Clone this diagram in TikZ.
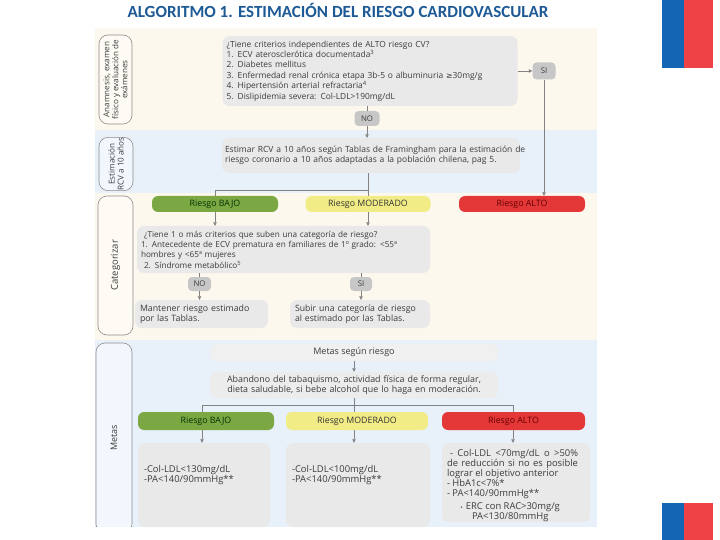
\documentclass[tikz,border=0pt]{standalone}
\usepackage{fontspec}
\setmainfont{Open Sans}
\newfontfamily\titlefont{Carlito}
\newfontfamily\symfont{DejaVu Sans}
\usetikzlibrary{arrows.meta,calc}
\definecolor{beige}{RGB}{253,248,238}
\definecolor{lblue}{RGB}{232,241,250}
\definecolor{boxgray}{RGB}{233,233,233}
\definecolor{txt}{RGB}{60,60,60}
\definecolor{linegray}{RGB}{130,130,130}
\definecolor{titleblue}{RGB}{30,90,150}
\definecolor{rgreen}{RGB}{124,168,68}
\definecolor{ryellow}{RGB}{241,236,134}
\definecolor{rred}{RGB}{228,56,56}
\definecolor{flagblue}{RGB}{21,101,181}
\definecolor{flagred}{RGB}{238,66,69}
\tikzset{
  gbox/.style={draw=none, fill=boxgray, rounded corners=7pt, text=txt, inner xsep=5pt, inner ysep=2pt},
  lbox/.style={gbox, align=left},
  cbox/.style={gbox, align=center},
  yn/.style={draw=none, fill=black!22, rounded corners=4pt, text=txt, font=\fontsize{7.8}{9}\selectfont, inner sep=0pt},
  risk/.style={draw=none, rounded corners=6pt, inner sep=0pt, font=\fontsize{8.8}{10}\selectfont},
  side/.style={draw=black!45, line width=0.6pt, rounded corners=9pt, rotate=90, align=center, text=txt, font=\fontsize{8.1}{9}\selectfont, inner sep=0pt},
  conn/.style={draw=linegray, line width=0.6pt},
  arr/.style={conn, -{Triangle[length=3.5pt,width=3.5pt]}},
  gtext/.style={anchor=west, align=left, text=txt, inner sep=0pt, font=\fontsize{9.4}{10.5}\selectfont},
}
\begin{document}
\begin{tikzpicture}[x=1pt,y=-1pt]
\useasboundingbox (0,0) rectangle (720,540);
\fill[white] (0,0) rectangle (720,540);
% flags
\fill[flagblue] (662,0) rectangle (684,68);
\fill[flagred] (684,0) rectangle (713,68);
\fill[flagblue] (662,503) rectangle (684,540);
\fill[flagred] (684,503) rectangle (713,540);
% title
\node[font=\titlefont\bfseries\fontsize{17}{19}\selectfont, text=titleblue] (title) at (338,10) {ALGORITMO 1. ESTIMACIÓN DEL RIESGO CARDIOVASCULAR};
% bands
\fill[beige] (95,28) rectangle (597,130);
\fill[lblue] (95,130) rectangle (597,193);
\fill[beige] (95,193) rectangle (597,340);
\fill[lblue] (95,340) rectangle (597,527);
% side labels
\node[side, fill=beige!60!white, minimum width=89pt, minimum height=33pt] (s1) at (115.5,79.5) {Anamnesis, examen\\físico y evaluación de\\exámenes};
\node[side, fill=lblue!60!white, minimum width=52pt, minimum height=34pt] (s2) at (116,164) {Estimación\\RCV a 10 años};
\node[side, fill=beige!60!white, minimum width=139pt, minimum height=35pt, font=\fontsize{9.5}{10}\selectfont] (s3) at (115.5,265.5) {Categorizar};
\node[side, fill=lblue!60!white, minimum width=190pt, minimum height=36pt, font=\fontsize{9}{10}\selectfont] (s4) at (114,438) {Metas};
\fill[white] (90,527) rectangle (140,540);
% band 1
\node[lbox, text width=287pt, inner xsep=4pt, minimum height=70pt, font=\fontsize{8.4}{10.4}\selectfont] (q1) at (370,71) {¿Tiene criterios independientes de ALTO riesgo CV?\\1. ECV aterosclerótica documentada\textsuperscript{3}\\2. Diabetes mellitus\\3. Enfermedad renal crónica etapa 3b-5 o albuminuria {\symfont\fontsize{7.8}{10}\selectfont ≥}30mg/g\\4. Hipertensión arterial refractaria\textsuperscript{4}\\5. Dislipidemia severa: Col-LDL>190mg/dL};
\node[yn, minimum width=23pt, minimum height=17pt] (si1) at (544,71) {SI};
\node[yn, minimum width=25pt, minimum height=15pt] (no1) at (367,118.5) {NO};
% band 2
\node[lbox, text width=292pt, inner xsep=3pt, minimum height=35pt, font=\fontsize{8.5}{10}\selectfont] (est) at (371,155.5) {\mbox{Estimar RCV a 10 años según Tablas de Framingham para la estimación de}\\\mbox{riesgo coronario a 10 años adaptadas a la población chilena, pag 5.}};
% band 3
\node[risk, fill=rgreen, text=black!80!green, minimum width=126pt, minimum height=16pt] (bajo1) at (215,204) {Riesgo BAJO};
\node[risk, fill=ryellow, text=black!80, minimum width=125pt, minimum height=16pt] (mod1) at (368,204) {Riesgo MODERADO};
\node[risk, fill=rred, text=black!60!red, minimum width=126pt, minimum height=16pt] (alto1) at (522,204) {Riesgo ALTO};
\node[lbox, text width=285pt, inner xsep=4pt, minimum height=47pt, font=\fontsize{8.2}{10.3}\selectfont] (q2) at (283.5,249.5) {\hspace*{3pt}¿Tiene 1 o más criterios que suben una categoría de riesgo?\\1. Antecedente de ECV prematura en familiares de 1º grado: <55ª\\hombres y <65ª mujeres\\\hspace*{3pt}2. Síndrome metabólico\textsuperscript{5}};
\node[yn, minimum width=23pt, minimum height=14pt] (no2) at (199.5,284) {NO};
\node[yn, minimum width=22pt, minimum height=14pt] (si2) at (361,284) {SI};
\node[lbox, text width=123pt, minimum height=28pt, font=\fontsize{8.8}{10}\selectfont] (mant) at (201.5,314) {Mantener riesgo estimado\\por las Tablas.};
\node[lbox, text width=130pt, minimum height=28pt, font=\fontsize{8.7}{10}\selectfont] (subir) at (360,314) {Subir una categoría de riesgo\\al estimado por las Tablas.};
% band 4
\node[cbox, fill=boxgray!70!white, minimum width=288pt, minimum height=17pt, font=\fontsize{9}{10}\selectfont] (metas) at (354,352.5) {Metas según riesgo};
\node[cbox, fill=boxgray!85!white, text width=278pt, minimum height=26pt, font=\fontsize{8.9}{10.2}\selectfont] (aband) at (354,385) {Abandono del tabaquismo, actividad física de forma regular,\\dieta saludable, si bebe alcohol que lo haga en moderación.};
\node[risk, fill=rgreen, text=black!80!green, minimum width=136pt, minimum height=18pt] (bajo2) at (206,421) {Riesgo BAJO};
\node[risk, fill=ryellow, text=black!80, minimum width=142pt, minimum height=18pt] (mod2) at (357,421) {Riesgo MODERADO};
\node[risk, fill=rred, text=black!60!red, minimum width=143pt, minimum height=18pt] (alto2) at (513.5,421) {Riesgo ALTO};
\node[gbox, minimum width=132pt, minimum height=84pt] (g1) at (204,485) {};
\node[gtext] (g1t) at ($(g1.west)+(6,-10)$) {-Col-LDL<130mg/dL\\-PA<140/90mmHg**};
\node[gbox, minimum width=144pt, minimum height=84pt] (g2) at (358,485) {};
\node[gtext] (g2t) at ($(g2.west)+(6,-10)$) {-Col-LDL<100mg/dL\\-PA<140/90mmHg**};
\node[gbox, minimum width=148pt, minimum height=79pt] (g3) at (516,482.5) {};
\node[gtext, font=\fontsize{9.4}{10}\selectfont] (g3t) at ($(g3.west)+(5,3)$) {\makebox[131pt][s]{\hspace*{3pt}- Col-LDL <70mg/dL o >50\%}\\\makebox[131pt][s]{de reducción si no es posible}\\lograr el objetivo anterior\\- HbA1c<7\%*\\- PA<140/90mmHg**\\[3pt]\hspace*{13pt}{\symfont\fontsize{5}{8}\selectfont •}\hspace*{3pt}ERC con RAC>30mg/g\\\hspace*{25pt}PA<130/80mmHg};
% connectors band 1-2
\draw[arr] (q1.east) -- (si1.west);
\draw[arr] (si1.south) -- (si1.south |- alto1.north);
\draw[conn] (q1.south -| no1.north) -- (no1.north);
\draw[arr] (no1.south) -- (no1.south |- est.north);
\coordinate (j1) at ($(mod1.north)+(0,-5)$);
\draw[conn] (est.south -| mod1.north) -- (mod1.north);
\draw[conn] (j1) -| (bajo1.north);
% band 3
\draw[arr] (bajo1.south) -- (bajo1.south |- q2.north);
\draw[arr] (mod1.south) -- (mod1.south |- q2.north);
\draw[conn] (q2.south -| no2.north) -- (no2.north);
\draw[arr] (no2.south) -- (no2.south |- mant.north);
\draw[conn] (q2.south -| si2.north) -- (si2.north);
\draw[arr] (si2.south) -- (si2.south |- subir.north);
% band 4
\draw[arr] (metas.south) -- (aband.north);
\coordinate (j2) at (354,405);
\coordinate (jl) at (202,405);
\coordinate (jr) at (513,405);
\draw[conn] (aband.south) -- (j2);
\draw[conn] (jl) -- (jr);
\draw[conn] (jl) -- (jl |- bajo2.north);
\draw[conn] (j2) -- (j2 |- mod2.north);
\draw[conn] (jr) -- (jr |- alto2.north);
\draw[arr] (jl |- bajo2.south) -- (jl |- g1.north);
\draw[arr] (j2 |- mod2.south) -- (j2 |- g2.north);
\draw[arr] (jr |- alto2.south) -- (jr |- g3.north);
\end{tikzpicture}
\end{document}
